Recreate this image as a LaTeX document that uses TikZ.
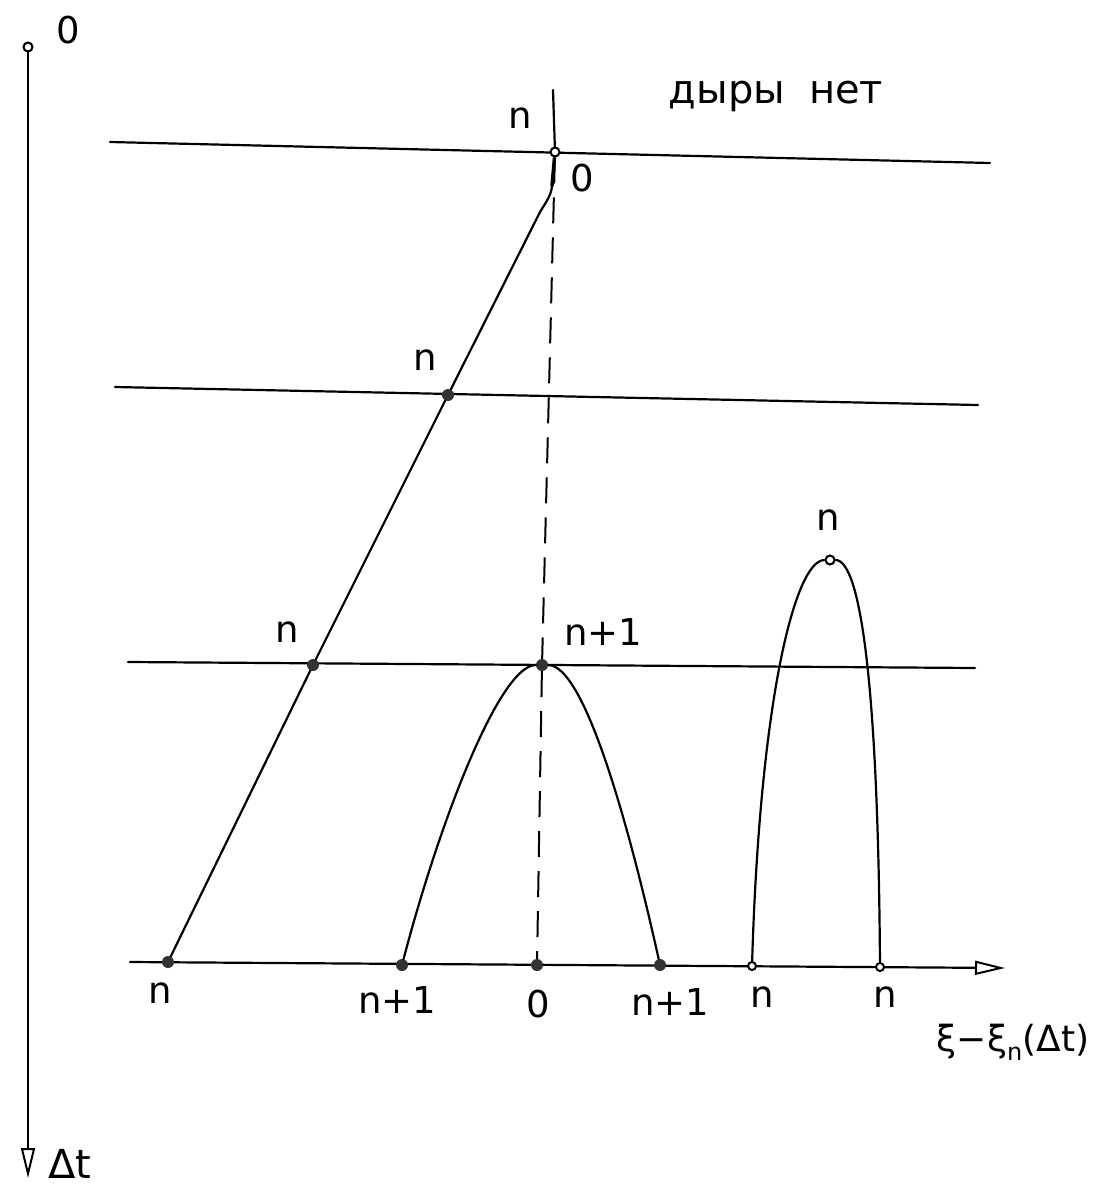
\documentclass[tikz,border=0pt]{standalone}
\usepackage{fontspec}
\setmainfont{DejaVu Sans}
\usetikzlibrary{arrows.meta}
\begin{document}
\begin{tikzpicture}[x=1pt,y=-1pt,
  ln/.style={line width=2.2pt,line cap=round},
  fdot/.style={circle,fill=black!80,inner sep=0pt,minimum size=12pt},
  odot/.style={circle,draw,line width=2pt,fill=white,inner sep=0pt,minimum size=9pt},
  lbl/.style={font=\fontsize{37}{40}\selectfont,inner sep=0pt},
  dsh/.style={line width=2pt,dash pattern=on 26pt off 14pt},
  otri/.style={-{Triangle[open,length=30pt,width=14pt,line width=2pt]}}]
\useasboundingbox (0,0) rectangle (1105,1188);
% vertical time axis
\node[odot] (vtop) at (28,47) {};
\coordinate (vend) at (28,1178);
\draw[ln,otri] (vtop) -- (vend);
\node[lbl] (lO) at (68,30) {0};
\node[lbl,font=\fontsize{40}{44}\selectfont] (ldt) at (70,1164) {Δt};
% horizontal levels
\coordinate (h1a) at (110,142); \coordinate (h1b) at (990,163);
\coordinate (h2a) at (115,387); \coordinate (h2b) at (978,405);
\coordinate (h3a) at (128,662); \coordinate (h3b) at (975,668);
\coordinate (xa) at (130,962);  \coordinate (xb) at (1005,968);
\draw[ln] (h1a) -- (h1b);
\draw[ln] (h2a) -- (h2b);
\draw[ln] (h3a) -- (h3b);
\draw[ln,otri] (xa) -- (xb);
% points
\node[odot] (c0) at (555,152) {};
\node[fdot] (d1) at (448,395) {};
\node[fdot] (d2) at (313,665) {};
\node[fdot] (p1) at (542,665) {};
\node[odot] (p2) at (830,560) {};
\node[fdot] (xn) at (168,962) {};
\node[fdot] (xa1) at (402,965) {};
\node[fdot] (x0) at (537,965) {};
\node[fdot] (xb1) at (660,965) {};
\node[odot,minimum size=8pt] (xc) at (752,966) {};
\node[odot,minimum size=8pt] (xd) at (880,967) {};
\coordinate (ntop) at (553,90);
\coordinate (bend) at (552,186);
% trajectory of n
\draw[ln] (ntop) -- (c0);
\draw[line width=3.5pt] (c0) -- (bend);
\draw[ln] (bend) .. controls (551,196) and (546,202) .. (540,212) -- (d1) -- (d2) -- (xn);
% dashed line
\draw[dsh] (c0) -- (p1) -- (x0);
% parabola n+1
\draw[ln] (xa1) .. controls (440,820) and (500,665) .. (p1)
          .. controls (585,665) and (630,830) .. (xb1);
% parabola n
\draw[ln] (xc) .. controls (760,700) and (795,560) .. (p2)
          .. controls (860,560) and (878,680) .. (xd);
% labels
\node[lbl] (ln0) at (520,118) {n};
\node[lbl] (l00) at (582,178) {0};
\node[lbl,font=\fontsize{40}{44}\selectfont] (lhole) at (776,96) {дыры\hspace{24pt}нет};
\node[lbl] (ln1) at (425,360) {n};
\node[lbl] (ln2) at (287,632) {n};
\node[lbl] (lnp) at (603,632) {n+1};
\node[lbl] (ln3) at (828,520) {n};
\node[lbl] (bn) at (160,993) {n};
\node[lbl] (bnp1) at (397,1000) {n+1};
\node[lbl] (b0) at (538,1004) {0};
\node[lbl] (bnp2) at (670,1002) {n+1};
\node[lbl] (bn2) at (762,997) {n};
\node[lbl] (bn3) at (885,997) {n};
\node[lbl,font=\fontsize{36}{40}\selectfont] (lxi) at (1013,1042) {ξ−ξ{\fontsize{24}{24}\selectfont\raisebox{-9pt}{n}}(Δt)};
\end{tikzpicture}
\end{document}
